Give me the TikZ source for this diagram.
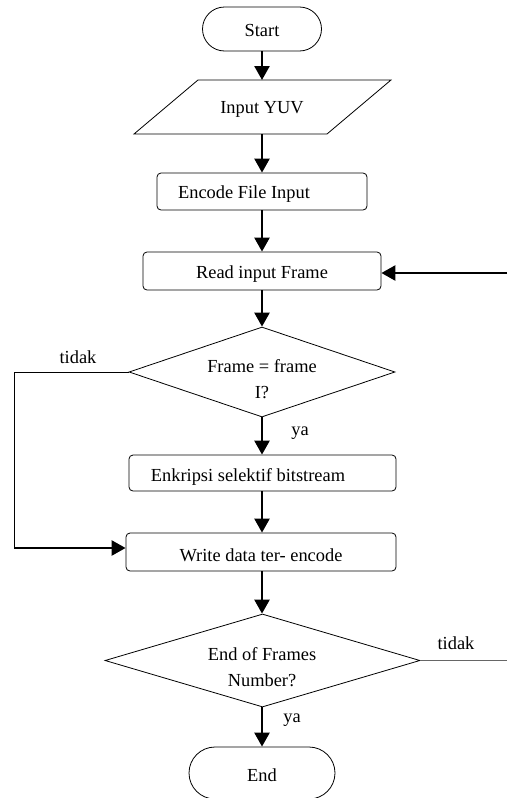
\documentclass[tikz,border=0pt]{standalone}
\usepackage{fontspec}
\setmainfont{Liberation Serif}
\usetikzlibrary{shapes.geometric,arrows.meta}
\begin{document}
\begin{tikzpicture}[x=1pt,y=-1pt,
 txt/.style={font=\fontsize{18.4}{26}\selectfont, inner sep=0pt, align=center},
 term/.style={draw, rounded corners=22pt, line width=0.8pt, inner sep=0pt},
 proc/.style={draw, rounded corners=4pt, line width=0.8pt, inner sep=0pt},
 dec/.style={draw, diamond, line width=0.8pt, inner sep=0pt},
 arr/.style={line width=2.5pt, -{Triangle[length=14pt,width=15pt]}},
 thinline/.style={line width=0.8pt}]
\useasboundingbox (0,0) rectangle (507,798);
% Start
\node[term, minimum width=119pt, minimum height=44pt] (start) at (262,29) {};
\node[txt] (startt) at (262,30) {Start};
% Input YUV parallelogram
\draw[thinline] (198,80) -- (391,80) -- (327,134) -- (134,134) -- cycle;
\coordinate (inpT) at (262,80);
\coordinate (inpB) at (262,134);
\node[txt] (inpt) at (262,109) {Input YUV};
% Encode File Input
\node[proc, minimum width=210pt, minimum height=37pt] (enc) at (262,191.5) {};
\node[txt] (enct) at (244,194) {Encode File Input};
% Read input Frame
\node[proc, minimum width=238pt, minimum height=38pt] (read) at (262,271) {};
\node[txt] (readt) at (262,274) {Read input Frame};
% Decision 1
\node[dec, minimum width=266pt, minimum height=90pt] (d1) at (262,372) {};
\node[txt] (d1t) at (262,379) {Frame = frame\\ I?};
% Enkripsi
\node[proc, minimum width=267pt, minimum height=36pt] (enk) at (262.5,473) {};
\node[txt] (enkt) at (248,477) {Enkripsi selektif bitstream};
% Write
\node[proc, minimum width=270pt, minimum height=38pt] (write) at (261,552) {};
\node[txt] (writet) at (261,555) {Write data ter- encode};
% Decision 2
\node[dec, minimum width=315pt, minimum height=93pt] (d2) at (262.5,660.5) {};
\node[txt] (d2t) at (262,667) {End of Frames\\ Number?};
% End
\node[term, minimum width=146pt, minimum height=52pt, rounded corners=26pt] (end) at (262,773) {};
\node[txt] (endt) at (262,775) {End};
% connectors
\draw[arr] (start.south) -- (start.south |- inpT);
\draw[arr] (inpB) -- (inpB |- enc.north);
\draw[arr] (enc.south) -- (enc.south |- read.north);
\draw[arr] (read.south) -- (read.south |- d1.north);
\draw[arr] (d1.south) -- (d1.south |- enk.north);
\draw[arr] (enk.south -| d1.south) -- (d1.south |- write.north);
\draw[arr] (write.south -| d1.south) -- (d1.south |- d2.north);
\draw[arr] (d2.south -| d1.south) -- (d1.south |- end.north);
\coordinate (rin) at (507,273);
\draw[arr] (rin) -- (read.east |- rin);
\coordinate (lc) at (14,372);
\coordinate (lb) at (14,548);
\draw[thinline] (d1.west) -- (lc) -- (lb);
\draw[arr] (lb) -- (write.west |- lb);
\coordinate (rc) at (507,660.5);
\draw[thinline, black!60] (d2.east) -- (rc);
% labels
\node[txt] (l1) at (78,357) {tidak};
\node[txt] (l2) at (300,433) {ya};
\node[txt] (l3) at (456,643) {tidak};
\node[txt] (l4) at (292,720) {ya};
\end{tikzpicture}
\end{document}
